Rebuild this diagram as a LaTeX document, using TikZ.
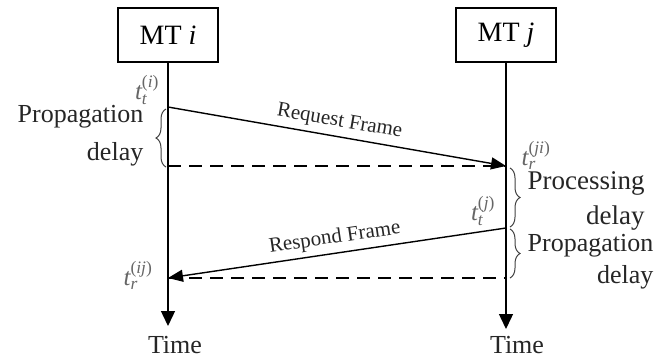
\documentclass[tikz,border=0pt]{standalone}
\usepackage{fontspec}
\usepackage{amsmath}
\setmainfont{Liberation Serif}
\usetikzlibrary{arrows.meta,decorations.pathreplacing}
\begin{document}
\begin{tikzpicture}[x=1pt,y=-1pt, line width=1.4pt,
  box/.style={draw, minimum width=100pt, minimum height=54pt, inner sep=0pt, font=\fontsize{28}{30}\selectfont},
  lbl/.style={font=\fontsize{26}{36}\selectfont, align=right, inner sep=0pt, text=black!85},
  tlab/.style={font=\fontsize{25}{27}\selectfont, text=black!60, inner sep=0pt},
  frm/.style={font=\fontsize{21}{23}\selectfont, sloped, above, inner sep=5pt, text=black!85},
  msg/.style={-{Triangle[length=15pt,width=12pt]}},
  tax/.style={-{Triangle[length=15pt,width=14pt]}},
  dsh/.style={dash pattern=on 13pt off 8pt},
  br/.style={decorate, decoration={brace, amplitude=10pt}, line width=1pt, draw=black!75}
]
\useasboundingbox (0,0) rectangle (662,360);
\node[box] (mi) at (168,35) {MT \textit{i}};
\node[box] (mj) at (506,35) {MT \textit{j}};
\coordinate (ti) at (168,107);
\coordinate (rj) at (506,166);
\coordinate (li) at (168,166);
\coordinate (tj) at (506,228);
\coordinate (ri) at (168,278);
\coordinate (lj) at (506,278);
\coordinate (ei) at (168,326);
\coordinate (ej) at (506,329);
% time axes
\draw[tax] (mi) -- (ei);
\draw[tax] (mj) -- (ej);
% dashed lines
\draw[dsh] (li) -- (rj);
\draw[dsh] (ri) -- (lj);
% messages
\draw[msg] (ti) -- (rj);
\path (ti) -- node[frm] {Request Frame} (rj);
\draw[msg] (tj) -- (ri);
\path (ri) -- node[frm] {Respond Frame} (tj);
% braces
\draw[br] (166,167) -- (166,109);
\draw[br] (510,168) -- (510,227);
\draw[br] (510,229) -- (510,278);
% labels
\node[lbl, anchor=east, font=\fontsize{26}{38}\selectfont] (pd1) at (144,136) {Propagation\\delay};
\node[lbl, anchor=west, font=\fontsize{27}{35}\selectfont] (pd2) at (527,201) {Processing\\delay};
\node[lbl, anchor=west, font=\fontsize{26}{32}\selectfont] (pd3) at (527,262) {Propagation\\delay};
\node[lbl] (tmi) at (175,345) {Time};
\node[lbl] (tmj) at (517,345) {Time};
% time stamps
\node[tlab] (lti) at (147,90) {$\textit{t}_{\textit{t}}^{\textup{(}\textit{i}\textup{)}}$};
\node[tlab] (ltr) at (536,155) {$\textit{t}_{\textit{r}}^{\textup{(}\textit{ji}\textup{)}}$};
\node[tlab] (ltj) at (483,211) {$\textit{t}_{\textit{t}}^{\textup{(}\textit{j}\textup{)}}$};
\node[tlab] (lri) at (138,275) {$\textit{t}_{\textit{r}}^{\textup{(}\textit{ij}\textup{)}}$};
\end{tikzpicture}
\end{document}
